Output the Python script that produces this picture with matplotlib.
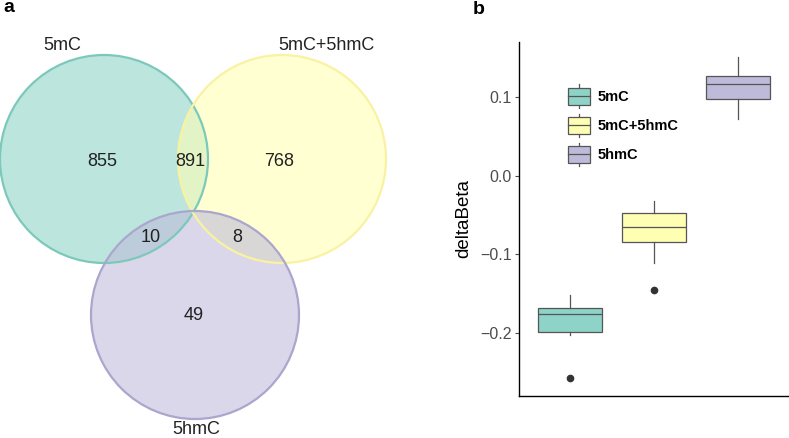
import numpy as np
import matplotlib
matplotlib.use("Agg")
import matplotlib.pyplot as plt
from matplotlib.patches import Circle, Rectangle
from matplotlib.lines import Line2D
from matplotlib.legend_handler import HandlerBase

plt.rcParams['font.family'] = ['Liberation Sans', 'DejaVu Sans']

# ---- data ----
groups = ['5mC', '5mC+5hmC', '5hmC']
colors = ['#8DD3C7', '#FFFFB3', '#BEBADA']
edge_colors = ['#7CC9BB', '#F9F2A2', '#AAA6CD']

# venn region counts
only_a, only_b, only_c = 855, 768, 49
ab, ac, bc = 891, 10, 8

# boxplot stats (deltaBeta)
q1 = [-0.199, -0.084, 0.097]
med = [-0.176, -0.065, 0.117]
q3 = [-0.168, -0.047, 0.127]
whislo = [-0.202, -0.111, 0.072]
whishi = [-0.151, -0.032, 0.151]
fliers = [[-0.257], [-0.145], []]

fig = plt.figure(figsize=(7.89, 4.38), dpi=100)

# ---- panel a: venn ----
ax1 = fig.add_axes([0, 0, 440 / 789, 1])
ax1.set_xlim(0, 440)
ax1.set_ylim(438, 0)
ax1.set_aspect('equal')
ax1.axis('off')

r = 104
centers = [(104, 159), (282, 159), (195, 315)]
for (cx, cy), fc, ec in zip(centers, colors, edge_colors):
    ax1.add_patch(Circle((cx, cy), r, facecolor=fc, alpha=0.58, lw=0))
for (cx, cy), fc, ec in zip(centers, colors, edge_colors):
    ax1.add_patch(Circle((cx, cy), r, facecolor='none', edgecolor=ec, lw=1.6))

txt_kw = dict(ha='center', va='center', fontsize=13, color='#222222')
ax1.text(102, 161, str(only_a), **txt_kw)
ax1.text(190, 161, str(ab), **txt_kw)
ax1.text(279, 161, str(only_b), **txt_kw)
ax1.text(151, 237, str(ac), **txt_kw)
ax1.text(237, 237, str(bc), **txt_kw)
ax1.text(194, 316, str(only_c), **txt_kw)

ax1.text(62, 46, groups[0], **txt_kw)
ax1.text(326, 46, groups[1], **txt_kw)
ax1.text(196, 430, groups[2], **txt_kw)

fig.text(3 / 789, 1 - 7 / 438, 'a', fontsize=14, fontweight='bold', va='center')
fig.text(473 / 789, 1 - 9 / 438, 'b', fontsize=14, fontweight='bold', va='center')

# ---- panel b: boxplot ----
ax2 = fig.add_axes([519 / 789, 42 / 438, 270 / 789, 354 / 438])
stats = []
for i, g in enumerate(groups):
    stats.append(dict(label=g, q1=q1[i], med=med[i], q3=q3[i],
                      whislo=whislo[i], whishi=whishi[i], fliers=fliers[i]))

bp = ax2.bxp(stats, positions=[1, 2, 3], widths=0.76, patch_artist=True,
             boxprops=dict(edgecolor='#555555', lw=0.9),
             medianprops=dict(color='#555555', lw=0.9),
             whiskerprops=dict(color='#555555', lw=0.9),
             capprops=dict(lw=0),
             flierprops=dict(marker='o', markerfacecolor='#333333',
                             markeredgecolor='#333333', markersize=4.5))
for patch, c in zip(bp['boxes'], colors):
    patch.set_facecolor(c)

ax2.set_xlim(0.4, 3.6)
ax2.set_ylim(-0.28, 0.17)
ax2.set_yticks([-0.2, -0.1, 0.0, 0.1])
ax2.set_yticklabels(['\u22120.2', '\u22120.1', '0.0', '0.1'])
ax2.tick_params(axis='y', labelsize=11.5, labelcolor='#4d4d4d', color='#4d4d4d',
                length=3, width=0.8, pad=2)
ax2.set_xticks([])
ax2.set_ylabel('deltaBeta', fontsize=13.5, labelpad=6)
for s in ['top', 'right']:
    ax2.spines[s].set_visible(False)
for s in ['left', 'bottom']:
    ax2.spines[s].set_linewidth(1)


class BoxHandler(HandlerBase):
    def create_artists(self, legend, orig_handle, xdescent, ydescent,
                       width, height, fontsize, trans):
        x0, y0 = -xdescent, -ydescent
        bh = height * 0.72
        by = y0 + (height - bh) / 2
        xm = x0 + width / 2
        arts = [
            Line2D([xm, xm], [y0, height + y0], color='#555555', lw=0.9, transform=trans),
            Rectangle((x0, by), width, bh, facecolor=orig_handle.get_facecolor(),
                      edgecolor='#555555', lw=0.9, transform=trans),
            Line2D([x0, x0 + width], [y0 + height / 2] * 2, color='#555555', lw=0.9,
                   transform=trans),
        ]
        return arts


handles = [Rectangle((0, 0), 1, 1, facecolor=c) for c in colors]
leg = ax2.legend(handles, groups, handler_map={Rectangle: BoxHandler()},
                 loc='upper left', bbox_to_anchor=(0.18, 0.88), frameon=False,
                 borderpad=0, borderaxespad=0, handlelength=1.55, handleheight=2.1,
                 labelspacing=0.38, handletextpad=0.5,
                 prop=dict(size=10.5, weight='bold'))

fig.savefig('out.png', dpi=100)
